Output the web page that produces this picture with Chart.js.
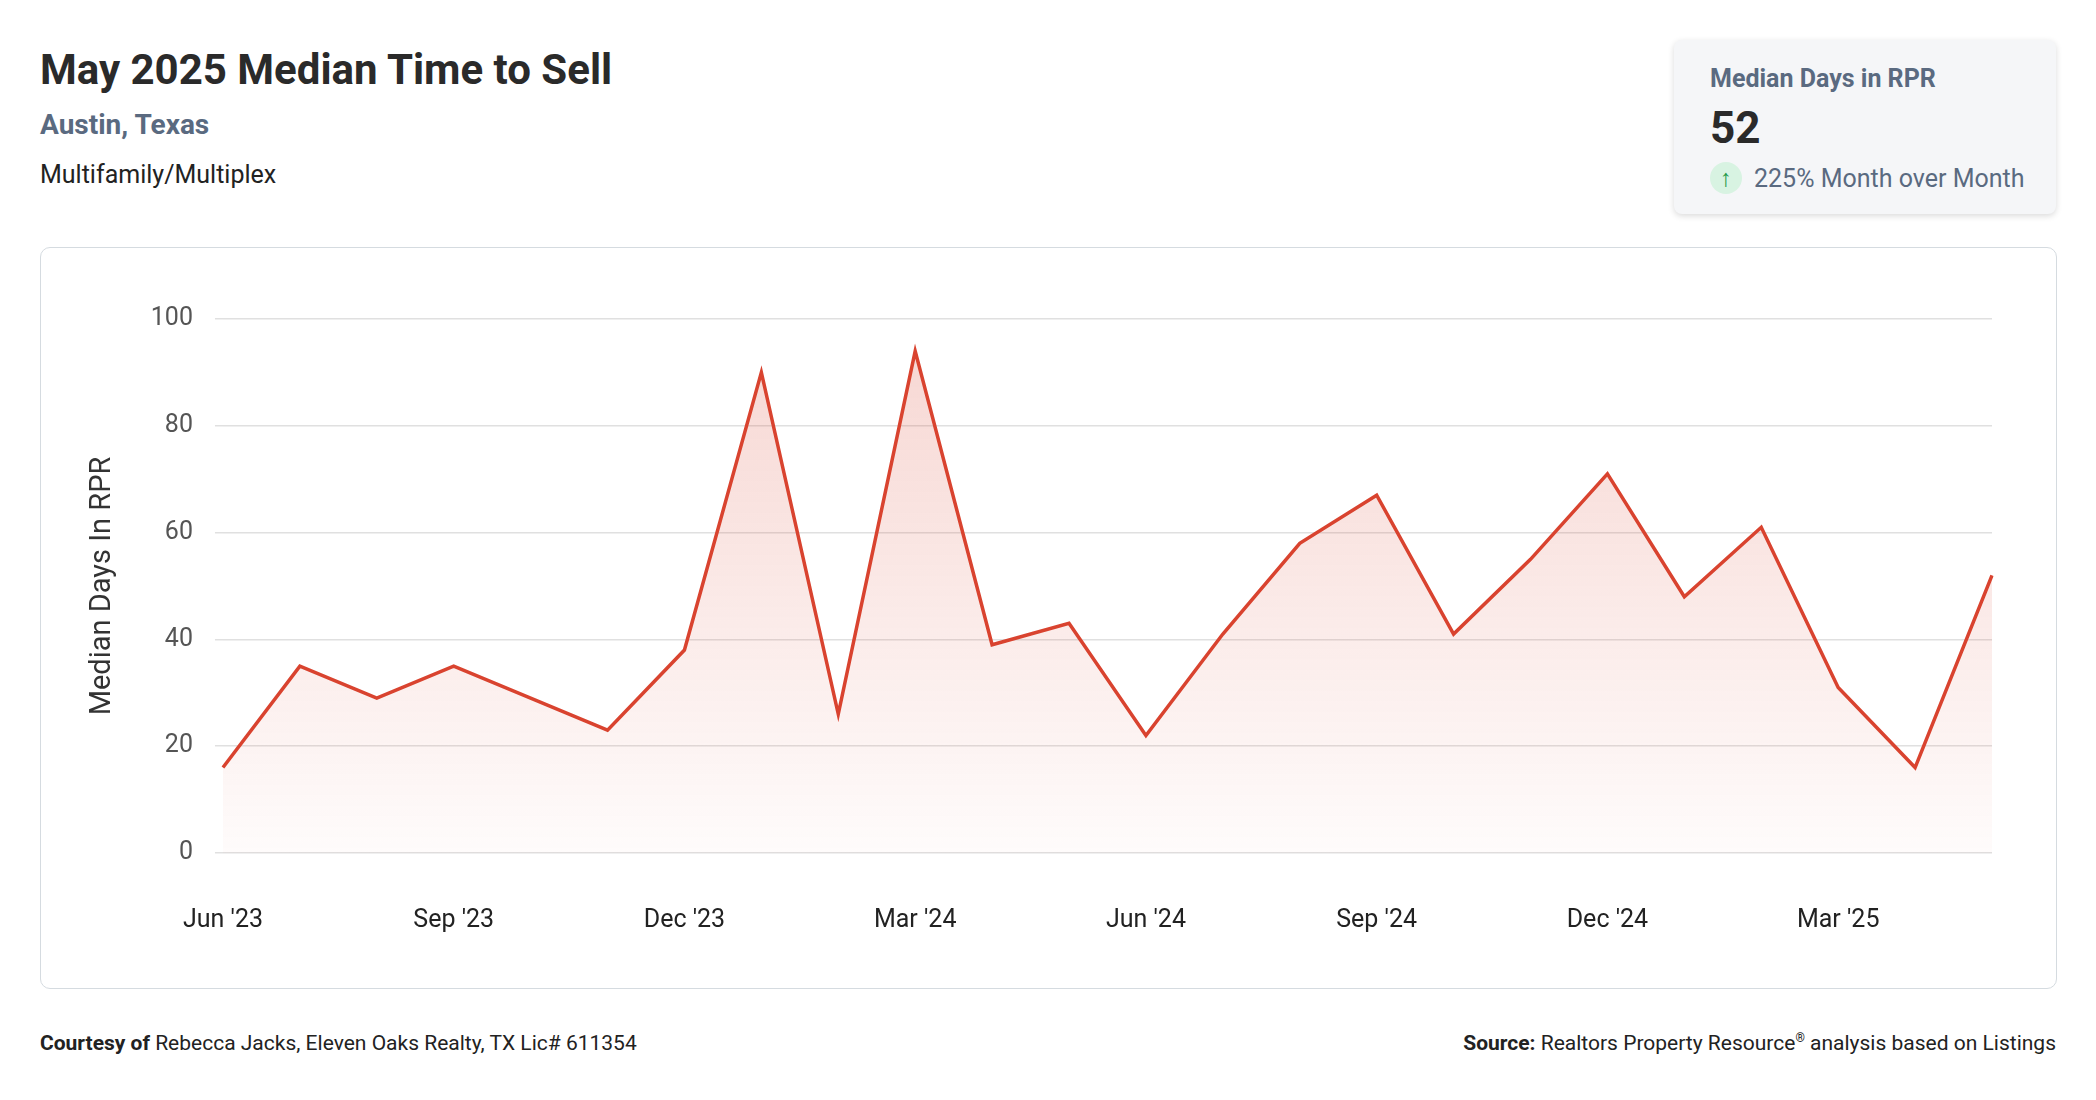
<!DOCTYPE html>
<html><head><meta charset="utf-8">
<script src="https://cdn.jsdelivr.net/npm/chart.js@4.4.0/dist/chart.umd.min.js"></script>
<style>
body{margin:0;width:2096px;height:1100px;background:#fff;font-family:Roboto,"Noto Sans",sans-serif;position:relative;overflow:hidden;color:#222}
#title{position:absolute;left:40px;top:45px;font-size:42px;font-weight:700;color:#2a2a2a}
#loc{position:absolute;left:40px;top:108px;font-size:28px;font-weight:700;color:#5a6a80}
#type{position:absolute;left:40px;top:160px;font-size:25px;color:#222}
#card{position:absolute;left:1674px;top:40px;width:382px;height:174px;background:#f5f6f8;border-radius:8px;box-shadow:0 2px 6px rgba(0,0,0,.15)}
#card .h{position:absolute;left:36px;top:24px;font-size:25px;font-weight:700;color:#5a6a80}
#card .v{position:absolute;left:36px;top:62px;font-size:44px;font-weight:700;color:#2a2a2a}
#card .c{position:absolute;left:36px;top:122px;font-size:25px;color:#5a6a80;display:flex;align-items:center}
#card .ic{width:32px;height:32px;border-radius:16px;background:#d8f3e2;color:#1f9a4a;display:inline-flex;align-items:center;justify-content:center;margin-right:12px;font-size:24px;font-weight:700}
#box{position:absolute;left:40px;top:247px;width:2015px;height:740px;border:1.5px solid #d5dbe0;border-radius:10px}
#foot1{position:absolute;left:40px;top:1031px;font-size:21px}
#foot2{position:absolute;right:40px;top:1031px;font-size:21px}
</style></head><body>
<div id="title">May 2025 Median Time to Sell</div>
<div id="loc">Austin, Texas</div>
<div id="type">Multifamily/Multiplex</div>
<div id="card"><div class="h">Median Days in RPR</div><div class="v">52</div><div class="c"><span class="ic">↑</span>225% Month over Month</div></div>
<div id="box"><canvas id="c"></canvas></div>
<div id="foot1"><b>Courtesy of</b> Rebecca Jacks, Eleven Oaks Realty, TX Lic# 611354</div>
<div id="foot2"><b>Source:</b> Realtors Property Resource<sup style="font-size:12px">®</sup> analysis based on Listings</div>
<script>
const months = ["Jun '23","Jul '23","Aug '23","Sep '23","Oct '23","Nov '23","Dec '23","Jan '24","Feb '24","Mar '24","Apr '24","May '24","Jun '24","Jul '24","Aug '24","Sep '24","Oct '24","Nov '24","Dec '24","Jan '25","Feb '25","Mar '25","Apr '25","May '25"];
const medianDays = [16,35,29,35,29,23,38,90,26,94,39,43,22,41,58,67,41,55,71,48,61,31,16,52];
const yTicks = [0,20,40,60,80,100];

const cv = document.getElementById('c');
cv.width = 2015; cv.height = 740;
cv.style.width = '2015px'; cv.style.height = '740px';
const ctx = cv.getContext('2d');
new Chart(ctx, {
  type: 'line',
  data: {
    labels: months,
    datasets: [{
      data: medianDays,
      borderColor: '#d9432f',
      borderWidth: 3.5,
      pointRadius: 0,
      tension: 0,
      fill: 'origin',
      backgroundColor: function (c) {
        const a = c.chart.chartArea;
        if (!a) return 'rgba(217,67,47,0.1)';
        const g = c.chart.ctx.createLinearGradient(0, a.top, 0, a.bottom);
        g.addColorStop(0, 'rgba(217,67,47,0.22)');
        g.addColorStop(1, 'rgba(217,67,47,0.02)');
        return g;
      }
    }]
  },
  options: {
    responsive: false,
    animation: false,
    layout: { padding: { left: 40, right: 64, top: 71, bottom: 7 } },
    plugins: { legend: { display: false }, tooltip: { enabled: false } },
    scales: {
      x: {
        grid: { display: false },
        border: { display: false },
        ticks: {
          color: '#222', font: { size: 25, family: 'Roboto' }, maxRotation: 0, autoSkip: false, padding: 45,
          callback: function (v, i) { return i % 3 === 0 ? months[i] : null; }
        }
      },
      y: {
        min: 0, max: 100,
        afterBuildTicks: function (s) { s.ticks = yTicks.map(v => ({ value: v })); },
        grid: { color: '#e0e0e0', lineWidth: 1.5 },
        border: { display: false },
        ticks: { color: '#555', font: { size: 25, family: 'Roboto' }, padding: 22 },
        title: { display: true, text: 'Median Days In RPR', color: '#333', font: { size: 29, family: 'Roboto' }, padding: { bottom: 9 } }
      }
    }
  }
});
</script>
</body></html>
